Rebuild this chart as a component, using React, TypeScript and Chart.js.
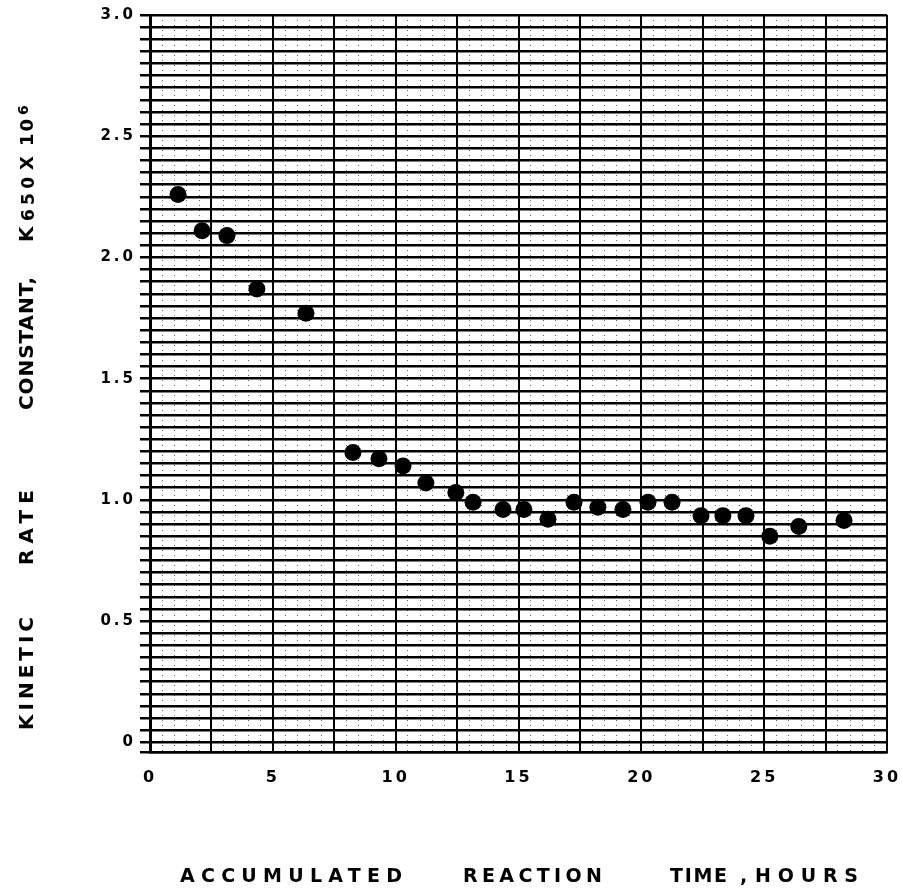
import React, { useEffect, useRef } from "react";
import { Chart, registerables } from "chart.js";
Chart.register(...registerables);

// Accumulated reaction time, hours
const hours = [1.14, 2.12, 3.13, 4.35, 6.35, 8.26, 9.32, 10.3, 11.23, 12.45, 13.15, 14.37, 15.22, 16.2, 17.26, 18.23, 19.25, 20.27, 21.25, 22.43, 23.32, 24.26, 25.23, 26.41, 28.25];
// Kinetic rate constant K650 x 10^6
const rateConstant = [2.26, 2.11, 2.09, 1.87, 1.77, 1.195, 1.17, 1.14, 1.07, 1.03, 0.99, 0.96, 0.96, 0.92, 0.99, 0.97, 0.96, 0.99, 0.99, 0.935, 0.935, 0.935, 0.85, 0.89, 0.915];

const yTickLabels = ["0", "0.5", "1.0", "1.5", "2.0", "2.5", "3.0"];
const xTickLabels = ["0", "5", "10", "15", "20", "25", "30"];
const xTitleWords = ["ACCUMULATED", "REACTION", "TIME", ",", "HOURS"];
const yTitleWords = ["KINETIC", "RATE", "CONSTANT,", "K", "650", "X", "10", "6"];

// layout (start, end along reading direction)
const xTitleLayout = [
  [180, 402],
  [463, 602],
  [670, 727],
  [740, 746],
  [755, 858],
];
const yTitleLayout = [
  // [bottom y, top y, font size, x shift]
  [730, 617, 20, 0],
  [565, 490, 20, 0],
  [410, 277, 20, 0],
  [242, 224, 20, 0],
  [221, 177, 17, 1],
  [170, 155, 18, 0],
  [146, 119, 18, 0],
  [115, 101, 14, -5],
];

const FONT = '"DejaVu Sans", sans-serif';

function drawFitted(ctx: CanvasRenderingContext2D, text: string, start: number, end: number, size: number) {
  ctx.font = `bold ${size}px ${FONT}`;
  (ctx as any).letterSpacing = "0px";
  const w = ctx.measureText(text).width;
  const n = [...text].length;
  const sp = n > 1 ? (Math.abs(end - start) - w) / (n - 1) : 0;
  (ctx as any).letterSpacing = `${sp}px`;
  ctx.fillText(text, 0, 0);
  (ctx as any).letterSpacing = "0px";
}

const titlePlugin = {
  id: "titles",
  beforeDraw(chart: any) {
    (chart.ctx as any).letterSpacing = "3px";
  },
  afterDraw(chart: any) {
    const ctx: CanvasRenderingContext2D = chart.ctx;
    ctx.save();
    ctx.fillStyle = "#000";
    ctx.textAlign = "left";
    ctx.textBaseline = "alphabetic";
    xTitleWords.forEach((word, i) => {
      const [a, b] = xTitleLayout[i];
      ctx.save();
      ctx.translate(a, 882);
      drawFitted(ctx, word, a, b, 19);
      ctx.restore();
    });
    yTitleWords.forEach((word, i) => {
      const [bottom, top, size, shift] = yTitleLayout[i];
      ctx.save();
      ctx.translate(33 + shift, bottom);
      ctx.rotate(-Math.PI / 2);
      drawFitted(ctx, word, bottom, top, size);
      ctx.restore();
    });
    ctx.restore();
  },
};

export default function App() {
  const ref = useRef<HTMLCanvasElement>(null);
  useEffect(() => {
    if (!ref.current) return;
    const chart = new Chart(ref.current, {
      type: "scatter",
      data: {
        datasets: [
          {
            data: hours.map((h, i) => ({ x: h, y: rateConstant[i] })),
            backgroundColor: "#000",
            borderColor: "#000",
            pointRadius: 8.5,
            pointBorderWidth: 0,
            showLine: false,
          },
        ],
      },
      options: {
        animation: false,
        responsive: false,
        maintainAspectRatio: false,
        layout: { padding: { top: 15, right: 15, left: 0, bottom: 0 } },
        plugins: { legend: { display: false }, tooltip: { enabled: false } },
        scales: {
          xMinor: {
            type: "linear",
            position: "top",
            min: 0,
            max: 30,
            ticks: { display: false, stepSize: 0.5, autoSkip: false },
            grid: { color: "rgba(0,0,0,0.6)", lineWidth: 1, drawTicks: false },
            border: { display: false, dash: [1, 4] },
            afterFit: (s: any) => {
              s.height = 0;
              s.paddingLeft = 0;
              s.paddingRight = 0;
            },
          } as any,
          x: {
            type: "linear",
            position: "bottom",
            min: 0,
            max: 30,
            ticks: {
              stepSize: 2.5,
              autoSkip: false,
              maxRotation: 0,
              padding: 16,
              color: "#000",
              font: { family: FONT, size: 16, weight: "bold" },
              callback: (v: any) => {
                const r = Math.round(Number(v) * 10);
                return r % 50 === 0 ? xTickLabels[r / 50] : "";
              },
            },
            grid: { color: "#000", lineWidth: 2, drawTicks: false },
            border: { display: true, color: "#000", width: 2.5 },
            afterFit: (s: any) => {
              s.height = 891 - 752;
              s.paddingLeft = 0;
              s.paddingRight = 0;
            },
          },
          y: {
            type: "linear",
            position: "left",
            min: -0.04,
            max: 3.0,
            ticks: {
              stepSize: 0.05,
              autoSkip: false,
              padding: 4,
              color: "#000",
              font: { family: FONT, size: 15, weight: "bold", lineHeight: 0.6 },
              callback: (v: any) => {
                const r = Math.round(Number(v) * 100);
                return r >= 0 && r % 50 === 0 ? yTickLabels[r / 50] : "";
              },
            },
            grid: { color: "#000", lineWidth: 2.5, tickLength: 10, drawTicks: true },
            border: { display: true, color: "#000", width: 3 },
            afterFit: (s: any) => {
              s.width = 150;
              s.paddingTop = 0;
              s.paddingBottom = 0;
            },
          },
        },
      },
      plugins: [titlePlugin],
    });
    return () => chart.destroy();
  }, []);
  return (
    <div style={{ position: "absolute", left: 0, top: 0, width: 902, height: 891, background: "#fff" }}>
      <canvas ref={ref} width={902} height={891} style={{ width: 902, height: 891 }} />
    </div>
  );
}
